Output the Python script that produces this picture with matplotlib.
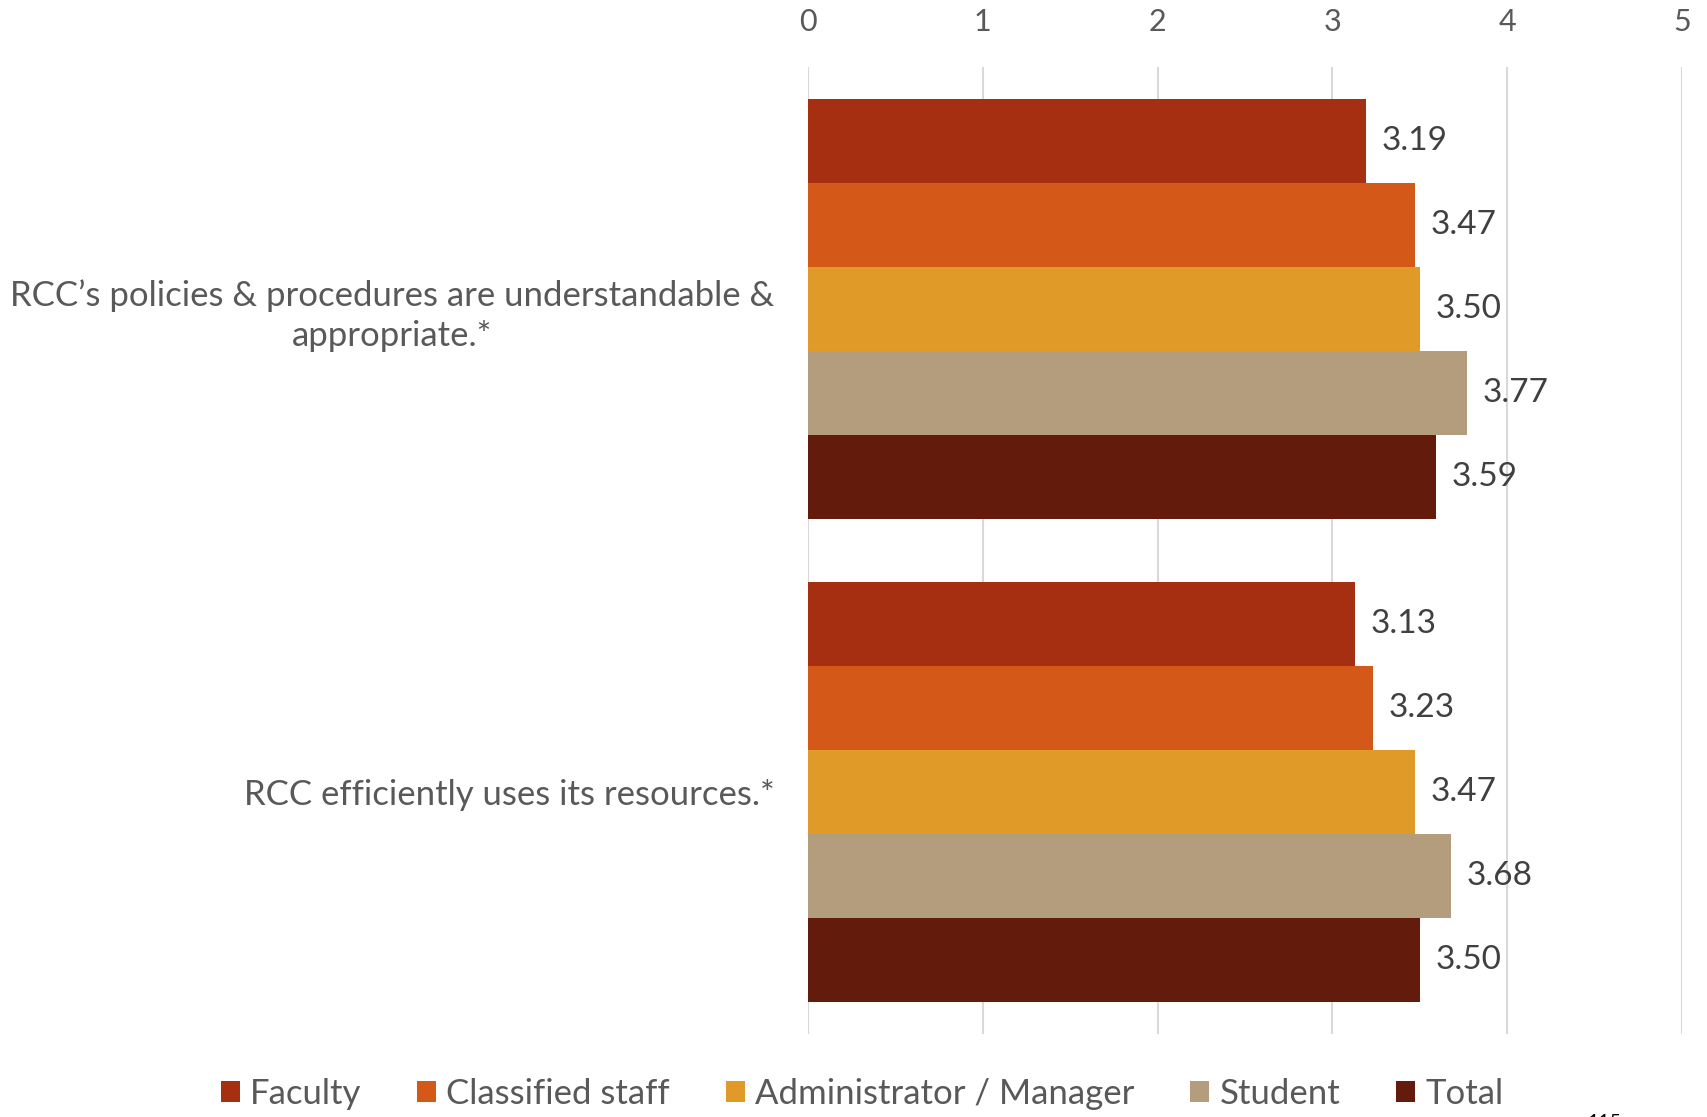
import matplotlib.pyplot as plt
import numpy as np

# data
categories = ["RCC\u2019s policies & procedures are understandable &\nappropriate.*",
              "RCC efficiently uses its resources.*"]
groups = ["Faculty", "Classified staff", "Administrator / Manager", "Student", "Total"]
faculty = [3.19, 3.13]
classified = [3.47, 3.23]
admin = [3.50, 3.47]
student = [3.77, 3.68]
total = [3.59, 3.50]
colors = ["#A52F10", "#D45817", "#E09A28", "#B39D7D", "#631C0B"]

series = [faculty, classified, admin, student, total]

plt.rcParams['font.family'] = ['Lato', 'DejaVu Sans']

fig = plt.figure(figsize=(17.07, 11.17), dpi=100)
ax = fig.add_axes([0.4733, 0.0743, 0.5121, 0.8657])

y = np.arange(len(categories))
group_w = 0.869
bar_h = group_w / len(series)

for i, (vals, name, c) in enumerate(zip(series, groups, colors)):
    pos = y - group_w / 2 + bar_h * (i + 0.5)
    bars = ax.barh(pos, vals, height=bar_h, color=c, label=name, zorder=2)
    for b, v in zip(bars, vals):
        ax.text(v + 0.09, b.get_y() + b.get_height() / 2, f"{v:.2f}",
                va='center', ha='left', fontsize=24, color='#404040')

ax.set_xlim(0, 5)
ax.set_ylim(1.5, -0.5)
ax.xaxis.tick_top()
ax.set_xticks(range(6))
ax.tick_params(axis='x', length=0, labelsize=22, labelcolor='#595959', pad=22)
ax.set_yticks(y)
ax.set_yticklabels(categories, fontsize=25, color='#595959', multialignment='center',
                   linespacing=1.3)
ax.tick_params(axis='y', length=0, pad=24)
ax.grid(axis='x', color='#d9d9d9', linewidth=1.5, zorder=0)
for s in ax.spines.values():
    s.set_visible(False)

leg = fig.legend(loc='center', bbox_to_anchor=(0.505, 0.021), ncol=5, frameon=False,
                 fontsize=25, handlelength=0.55, handleheight=0.55, handletextpad=0.3,
                 columnspacing=1.6)
for t in leg.get_texts():
    t.set_color('#595959')

# page number cut off at the bottom edge
fig.text(0.94, 0.003, "115", fontsize=14, color='#000000', va='top', ha='center')

fig.savefig("out.png", dpi=100)
